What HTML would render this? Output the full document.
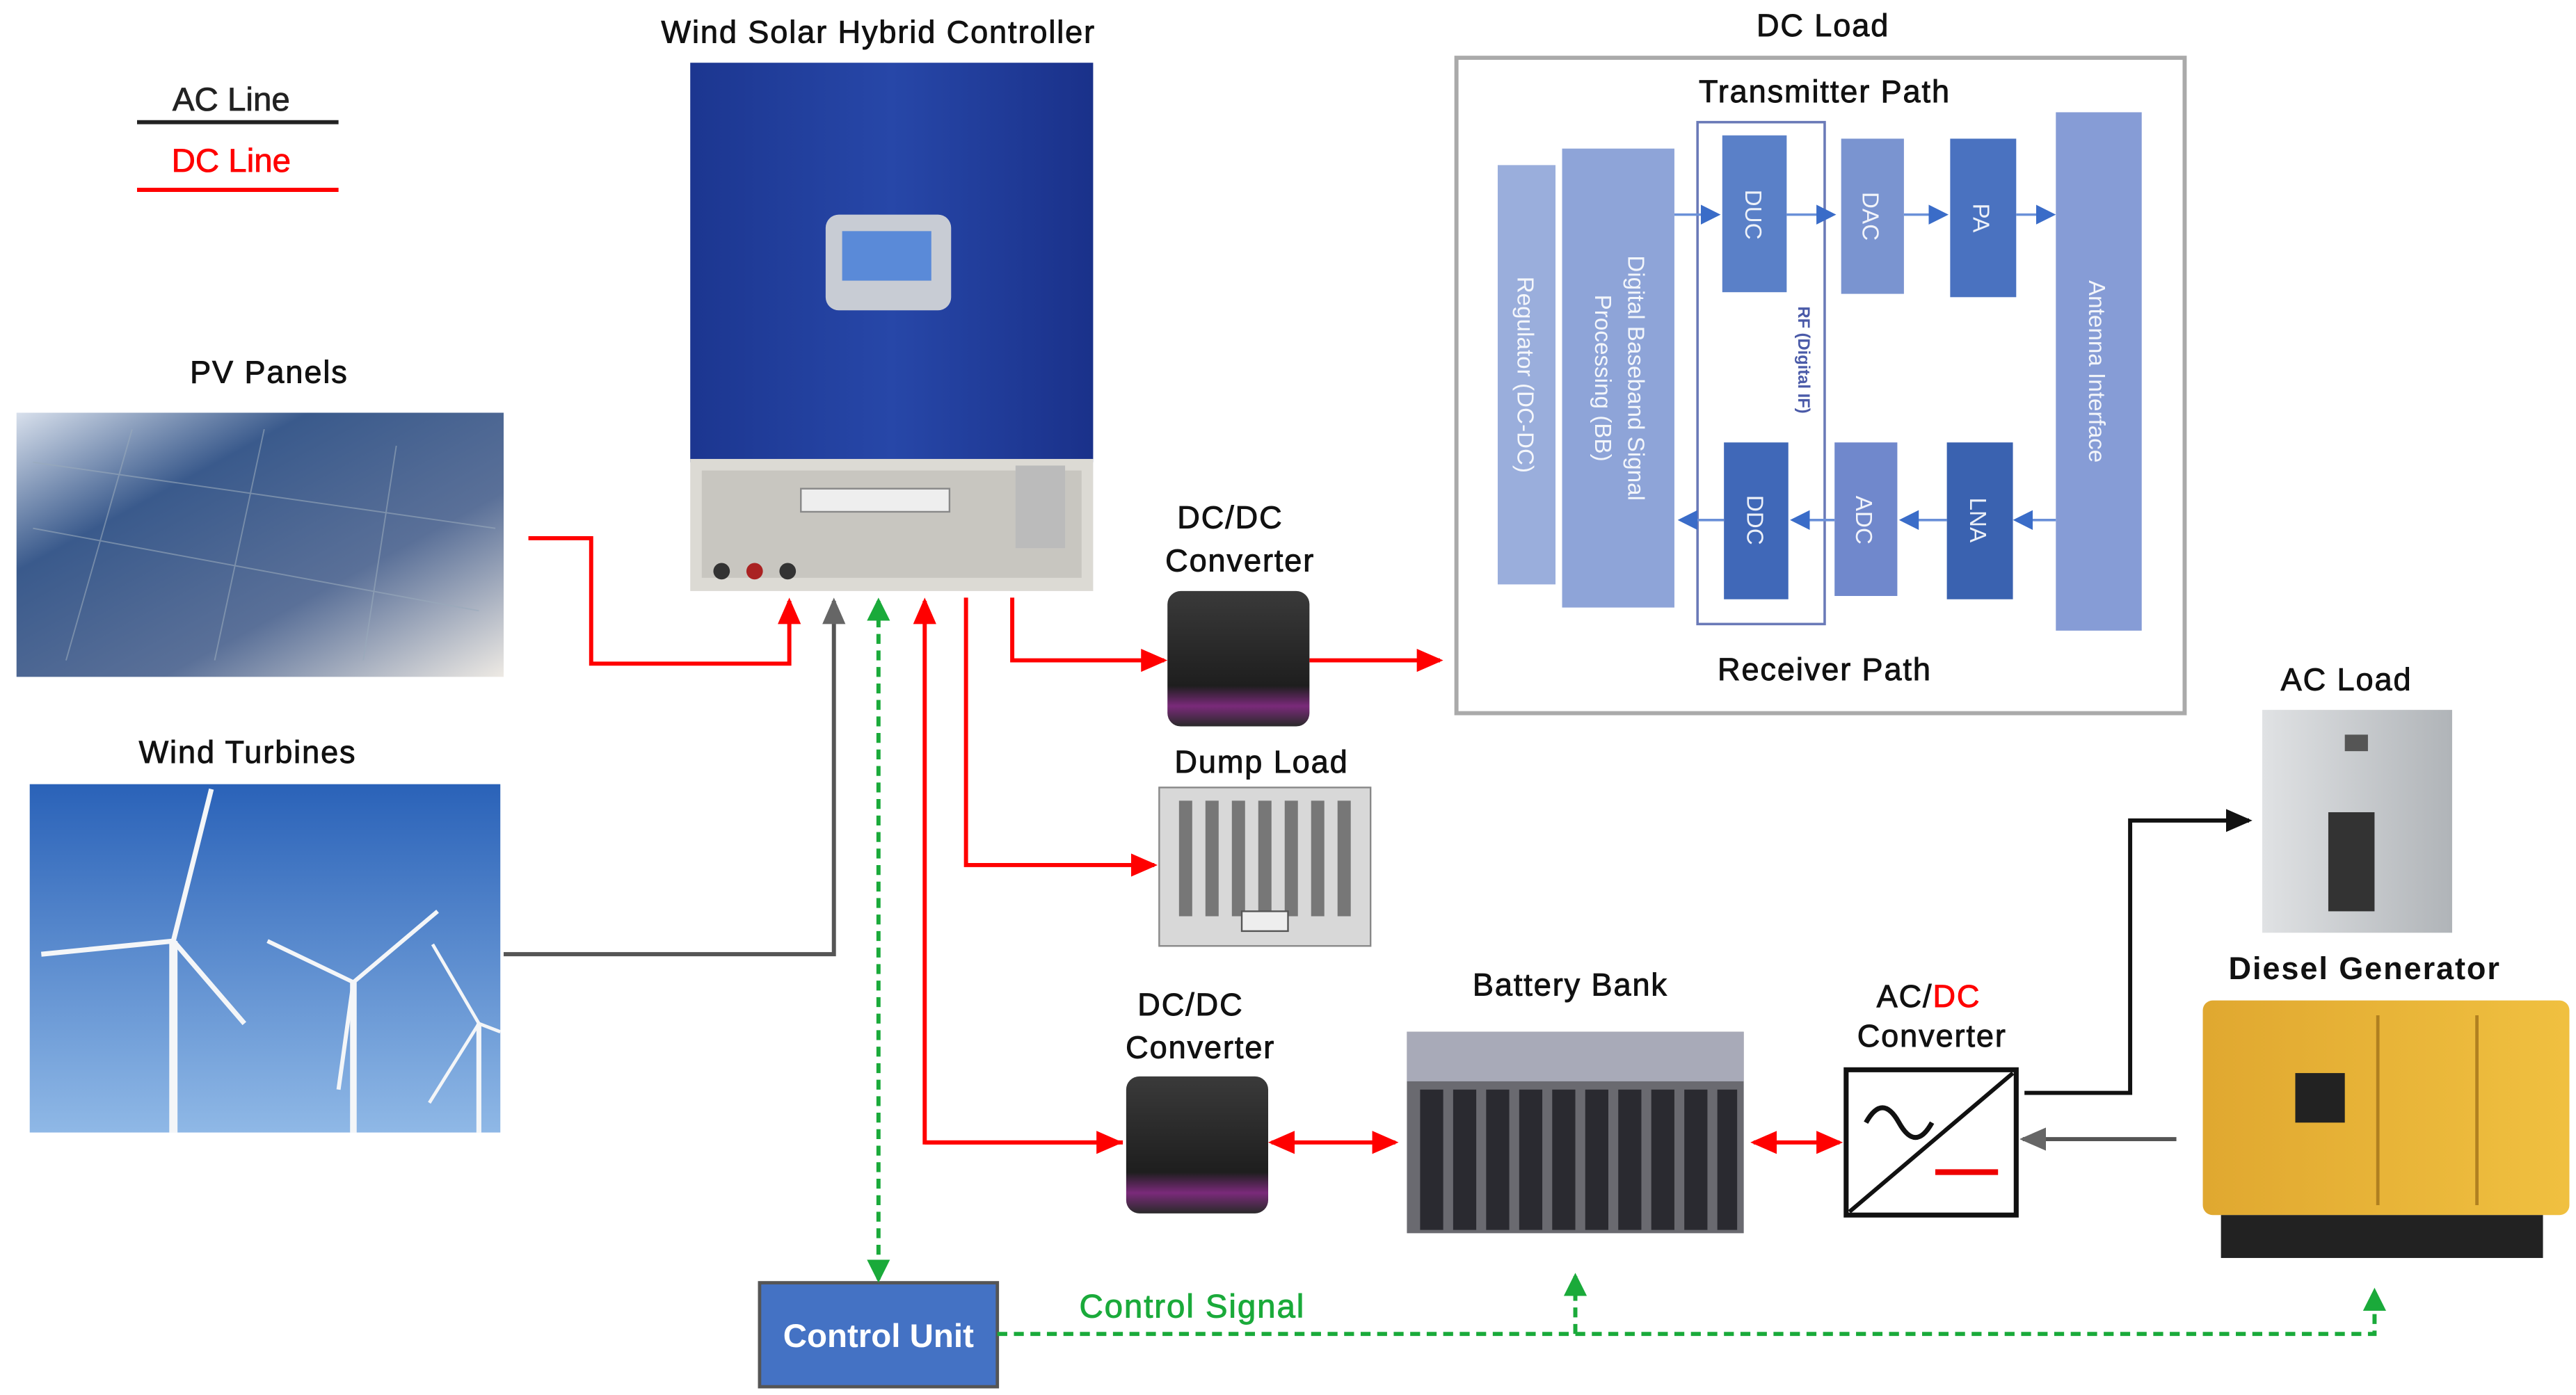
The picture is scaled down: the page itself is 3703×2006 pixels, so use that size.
<!DOCTYPE html>
<html><head><meta charset="utf-8"><style>
html,body{margin:0;padding:0;background:#fff;}
svg{display:block;}
text{font-family:"Liberation Sans",sans-serif;}
</style></head><body>
<svg width="3703" height="2006" viewBox="0 0 1560 845" preserveAspectRatio="none" xmlns="http://www.w3.org/2000/svg">
<defs>
<marker id="arr" markerWidth="16" markerHeight="14" refX="14" refY="7" orient="auto-start-reverse" markerUnits="userSpaceOnUse"><path d="M0,0L16,7L0,14z" fill="#f00"/></marker>
<marker id="ak" markerWidth="16" markerHeight="14" refX="14" refY="7" orient="auto" markerUnits="userSpaceOnUse"><path d="M0,0L16,7L0,14z" fill="#111"/></marker>
<marker id="ag" markerWidth="16" markerHeight="14" refX="14" refY="7" orient="auto" markerUnits="userSpaceOnUse"><path d="M0,0L16,7L0,14z" fill="#666"/></marker>
<marker id="agr" markerWidth="14" markerHeight="14" refX="12" refY="7" orient="auto-start-reverse" markerUnits="userSpaceOnUse"><path d="M0,0L14,7L0,14z" fill="#1aaa3a"/></marker>
<marker id="ab" markerWidth="12" markerHeight="12" refX="10" refY="6" orient="auto" markerUnits="userSpaceOnUse"><path d="M0,0L12,6L0,12z" fill="#3a6cc8"/></marker>
<linearGradient id="pv" x1="0" y1="0" x2="1" y2="1"><stop offset="0" stop-color="#d8e0ec"/><stop offset="0.3" stop-color="#3a5a8c"/><stop offset="0.65" stop-color="#5a7098"/><stop offset="1" stop-color="#eeeae4"/></linearGradient>
<linearGradient id="sky" x1="0" y1="0" x2="0" y2="1"><stop offset="0" stop-color="#2a62b8"/><stop offset="1" stop-color="#8fb8e6"/></linearGradient>
<linearGradient id="ctl" x1="0" y1="0" x2="1" y2="0"><stop offset="0" stop-color="#1c3690"/><stop offset="0.5" stop-color="#2747a8"/><stop offset="1" stop-color="#1a318a"/></linearGradient>
<linearGradient id="dc" x1="0" y1="0" x2="0" y2="1"><stop offset="0" stop-color="#3a3a3a"/><stop offset="0.7" stop-color="#1e1e1e"/><stop offset="0.85" stop-color="#7a2a7a"/><stop offset="1" stop-color="#2a2a2a"/></linearGradient>
<linearGradient id="gen" x1="0" y1="0" x2="1" y2="0"><stop offset="0" stop-color="#e0a830"/><stop offset="1" stop-color="#f0c040"/></linearGradient>
<linearGradient id="cab" x1="0" y1="0" x2="1" y2="0"><stop offset="0" stop-color="#e0e2e4"/><stop offset="1" stop-color="#b0b4b8"/></linearGradient>
</defs>

<g stroke="currentColor" stroke-width="0.35">
<text x="140" y="67" font-size="20" text-anchor="middle" fill="#222" color="#222">AC Line</text>
<text x="140" y="104" font-size="20" text-anchor="middle" fill="#f00" color="#f00">DC Line</text>
</g>
<line x1="83" y1="74" x2="205" y2="74" stroke="#222" stroke-width="2.5"/>
<line x1="83" y1="115" x2="205" y2="115" stroke="#f00" stroke-width="2.5"/>

<g font-size="19" fill="#111" letter-spacing="0.8" stroke="#111" stroke-width="0.4">
<text x="532" y="26" text-anchor="middle">Wind Solar Hybrid Controller</text>
<text x="163" y="232" text-anchor="middle">PV Panels</text>
<text x="150" y="462" text-anchor="middle">Wind Turbines</text>
<text x="745" y="320" text-anchor="middle">DC/DC</text>
<text x="751" y="346" text-anchor="middle">Converter</text>
<text x="764" y="468" text-anchor="middle">Dump Load</text>
<text x="721" y="615" text-anchor="middle">DC/DC</text>
<text x="727" y="641" text-anchor="middle">Converter</text>
<text x="951" y="603" text-anchor="middle">Battery Bank</text>
<text x="1168" y="610" text-anchor="middle">AC/<tspan fill="#f00" stroke="#f00">DC</tspan></text>
<text x="1170" y="634" text-anchor="middle">Converter</text>
<text x="1421" y="418" text-anchor="middle">AC Load</text>
<text x="1432" y="593" text-anchor="middle" font-weight="bold" stroke-width="0">Diesel Generator</text>
<text x="1104" y="22" text-anchor="middle">DC Load</text>
</g>

<rect x="418" y="38" width="244" height="242" fill="url(#ctl)"/>
<rect x="418" y="278" width="244" height="80" fill="#dcdad4"/>
<rect x="425" y="285" width="230" height="65" fill="#c8c6c0"/>
<g fill="#333"><circle cx="437" cy="346" r="5"/><circle cx="457" cy="346" r="5" fill="#a22"/><circle cx="477" cy="346" r="5"/></g>
<rect x="485" y="296" width="90" height="14" fill="#eee" stroke="#888"/>
<rect x="615" y="282" width="30" height="50" fill="#bbb"/>
<rect x="500" y="130" width="76" height="58" rx="8" fill="#c8ccd4"/>
<rect x="510" y="140" width="54" height="30" fill="#5a8ad8"/>

<rect x="10" y="250" width="295" height="160" fill="url(#pv)"/>
<g stroke="#9ab" stroke-width="0.8" opacity="0.6">
<line x1="20" y1="280" x2="300" y2="320"/><line x1="20" y1="320" x2="290" y2="370"/><line x1="80" y1="260" x2="40" y2="400"/><line x1="160" y1="260" x2="130" y2="400"/><line x1="240" y1="270" x2="220" y2="400"/>
</g>

<rect x="18" y="475" width="285" height="211" fill="url(#sky)"/>
<g stroke="#f4f6f8" fill="#f4f6f8">
<line x1="105" y1="570" x2="105" y2="686" stroke-width="5"/>
<line x1="105" y1="570" x2="128" y2="478" stroke-width="3"/><line x1="105" y1="570" x2="25" y2="578" stroke-width="3"/><line x1="105" y1="570" x2="148" y2="620" stroke-width="3"/>
<line x1="214" y1="595" x2="214" y2="686" stroke-width="4"/>
<line x1="214" y1="595" x2="265" y2="552" stroke-width="2.5"/><line x1="214" y1="595" x2="162" y2="570" stroke-width="2.5"/><line x1="214" y1="595" x2="205" y2="660" stroke-width="2.5"/>
<line x1="290" y1="620" x2="290" y2="686" stroke-width="3"/>
<line x1="290" y1="620" x2="262" y2="572" stroke-width="2"/><line x1="290" y1="620" x2="260" y2="668" stroke-width="2"/><line x1="290" y1="620" x2="303" y2="625" stroke-width="2"/>
</g>

<rect x="882" y="35" width="441" height="397" fill="#fff" stroke="#aaa" stroke-width="2.5"/>
<text x="1105" y="62" font-size="19" text-anchor="middle" fill="#111" stroke="#111" stroke-width="0.4" letter-spacing="0.8">Transmitter Path</text>
<text x="1105" y="412" font-size="19" text-anchor="middle" fill="#111" stroke="#111" stroke-width="0.4" letter-spacing="0.8">Receiver Path</text>
<rect x="907" y="100" width="35" height="254" fill="#9aaedc"/>
<rect x="946" y="90" width="68" height="278" fill="#8ea4d8"/>
<rect x="1028" y="74" width="77" height="304" fill="none" stroke="#6a7ab8" stroke-width="1.5"/>
<rect x="1043" y="82" width="39" height="95" fill="#5a80c8"/>
<rect x="1115" y="84" width="38" height="94" fill="#7a94d0"/>
<rect x="1181" y="84" width="40" height="96" fill="#4a72c0"/>
<rect x="1245" y="68" width="52" height="314" fill="#869cd6"/>
<rect x="1044" y="268" width="39" height="95" fill="#4068b8"/>
<rect x="1111" y="268" width="38" height="93" fill="#7088cc"/>
<rect x="1179" y="268" width="40" height="95" fill="#3a62b0"/>
<g font-size="14" fill="#fff" opacity="0.9">
<text transform="translate(919,227) rotate(90)" text-anchor="middle">Regulator (DC-DC)</text>
<text transform="translate(986,229) rotate(90)" text-anchor="middle">Digital Baseband Signal</text>
<text transform="translate(966,229) rotate(90)" text-anchor="middle">Processing (BB)</text>
<text transform="translate(1057,130) rotate(90)" text-anchor="middle">DUC</text>
<text transform="translate(1128,131) rotate(90)" text-anchor="middle">DAC</text>
<text transform="translate(1195,132) rotate(90)" text-anchor="middle">PA</text>
<text transform="translate(1265,225) rotate(90)" text-anchor="middle">Antenna Interface</text>
<text transform="translate(1058,315) rotate(90)" text-anchor="middle">DDC</text>
<text transform="translate(1124,315) rotate(90)" text-anchor="middle">ADC</text>
<text transform="translate(1193,315) rotate(90)" text-anchor="middle">LNA</text>
</g>
<text transform="translate(1089,218) rotate(90)" font-size="10" font-weight="bold" text-anchor="middle" fill="#4a5aa8">RF (Digital IF)</text>
<g stroke="#6a90d8" stroke-width="1.5">
<line x1="1014" y1="130" x2="1040" y2="130" marker-end="url(#ab)"/>
<line x1="1082" y1="130" x2="1110" y2="130" marker-end="url(#ab)"/>
<line x1="1153" y1="130" x2="1178" y2="130" marker-end="url(#ab)"/>
<line x1="1221" y1="130" x2="1243" y2="130" marker-end="url(#ab)"/>
<line x1="1245" y1="315" x2="1221" y2="315" marker-end="url(#ab)"/>
<line x1="1179" y1="315" x2="1152" y2="315" marker-end="url(#ab)"/>
<line x1="1111" y1="315" x2="1086" y2="315" marker-end="url(#ab)"/>
<line x1="1044" y1="315" x2="1018" y2="315" marker-end="url(#ab)"/>
</g>

<rect x="707" y="358" width="86" height="82" rx="8" fill="url(#dc)"/>
<rect x="682" y="652" width="86" height="83" rx="8" fill="url(#dc)"/>

<rect x="702" y="477" width="128" height="96" fill="#d8d8d8" stroke="#888"/>
<g fill="#777">
<rect x="714" y="485" width="8" height="70"/><rect x="730" y="485" width="8" height="70"/><rect x="746" y="485" width="8" height="70"/><rect x="762" y="485" width="8" height="70"/><rect x="778" y="485" width="8" height="70"/><rect x="794" y="485" width="8" height="70"/><rect x="810" y="485" width="8" height="70"/>
</g>
<rect x="752" y="552" width="28" height="12" fill="#eee" stroke="#555"/>

<rect x="852" y="625" width="204" height="122" fill="#6a6a70"/>
<rect x="852" y="625" width="204" height="30" fill="#a8aab8"/>
<g fill="#2a2a30"><rect x="860" y="660" width="14" height="85"/><rect x="880" y="660" width="14" height="85"/><rect x="900" y="660" width="14" height="85"/><rect x="920" y="660" width="14" height="85"/><rect x="940" y="660" width="14" height="85"/><rect x="960" y="660" width="14" height="85"/><rect x="980" y="660" width="14" height="85"/><rect x="1000" y="660" width="14" height="85"/><rect x="1020" y="660" width="14" height="85"/><rect x="1040" y="660" width="12" height="85"/></g>

<rect x="1118" y="648" width="103" height="88" fill="#fff" stroke="#111" stroke-width="3"/>
<line x1="1120" y1="734" x2="1219" y2="650" stroke="#111" stroke-width="2.5"/>
<path d="M1130,680 q10,-18 20,0 t20,0" fill="none" stroke="#111" stroke-width="3"/>
<line x1="1172" y1="710" x2="1210" y2="710" stroke="#e00" stroke-width="3.5"/>

<rect x="1370" y="430" width="115" height="135" fill="url(#cab)"/>
<rect x="1410" y="492" width="28" height="60" fill="#333"/>
<rect x="1420" y="445" width="14" height="10" fill="#555"/>

<rect x="1334" y="606" width="222" height="130" rx="6" fill="url(#gen)"/>
<rect x="1345" y="736" width="195" height="26" fill="#222"/>
<rect x="1390" y="650" width="30" height="30" fill="#222"/>
<line x1="1440" y1="615" x2="1440" y2="730" stroke="#b08020" stroke-width="2"/>
<line x1="1500" y1="615" x2="1500" y2="730" stroke="#b08020" stroke-width="2"/>

<rect x="460" y="777" width="144" height="63" fill="#4472c4" stroke="#555" stroke-width="2"/>
<text x="532" y="816" font-size="20" font-weight="bold" text-anchor="middle" fill="#fff">Control Unit</text>
<text x="722" y="798" font-size="20" text-anchor="middle" fill="#1aaa3a" stroke="#1aaa3a" stroke-width="0.4" letter-spacing="0.8">Control Signal</text>

<g fill="none" stroke-width="2.5">
<polyline points="320,326 358,326 358,402 478,402 478,364" stroke="#f00" marker-end="url(#arr)"/>
<polyline points="305,578 505,578 505,364" stroke="#555" marker-end="url(#ag)"/>
<polyline points="680,692 560,692 560,364" stroke="#f00" marker-end="url(#arr)"/>
<polyline points="560,692 678,692" stroke="#f00" marker-end="url(#arr)"/>
<polyline points="613,362 613,400 705,400" stroke="#f00" marker-end="url(#arr)"/>
<polyline points="793,400 872,400" stroke="#f00" marker-end="url(#arr)"/>
<polyline points="585,362 585,524 699,524" stroke="#f00" marker-end="url(#arr)"/>
<line x1="770" y1="692" x2="845" y2="692" stroke="#f00" marker-start="url(#arr)" marker-end="url(#arr)"/>
<line x1="1062" y1="692" x2="1114" y2="692" stroke="#f00" marker-start="url(#arr)" marker-end="url(#arr)"/>
<polyline points="1226,662 1290,662 1290,497 1362,497" stroke="#111" marker-end="url(#ak)"/>
<line x1="1318" y1="690" x2="1225" y2="690" stroke="#555" marker-end="url(#ag)"/>
<line x1="532" y1="364" x2="532" y2="775" stroke="#1aaa3a" stroke-dasharray="6,4" marker-start="url(#agr)" marker-end="url(#agr)"/>
<polyline points="604,808 1438,808 1438,782" stroke="#1aaa3a" stroke-dasharray="6,4" marker-end="url(#agr)"/>
<line x1="954" y1="808" x2="954" y2="773" stroke="#1aaa3a" stroke-dasharray="6,4" marker-end="url(#agr)"/>
</g>
</svg>
</body></html>
